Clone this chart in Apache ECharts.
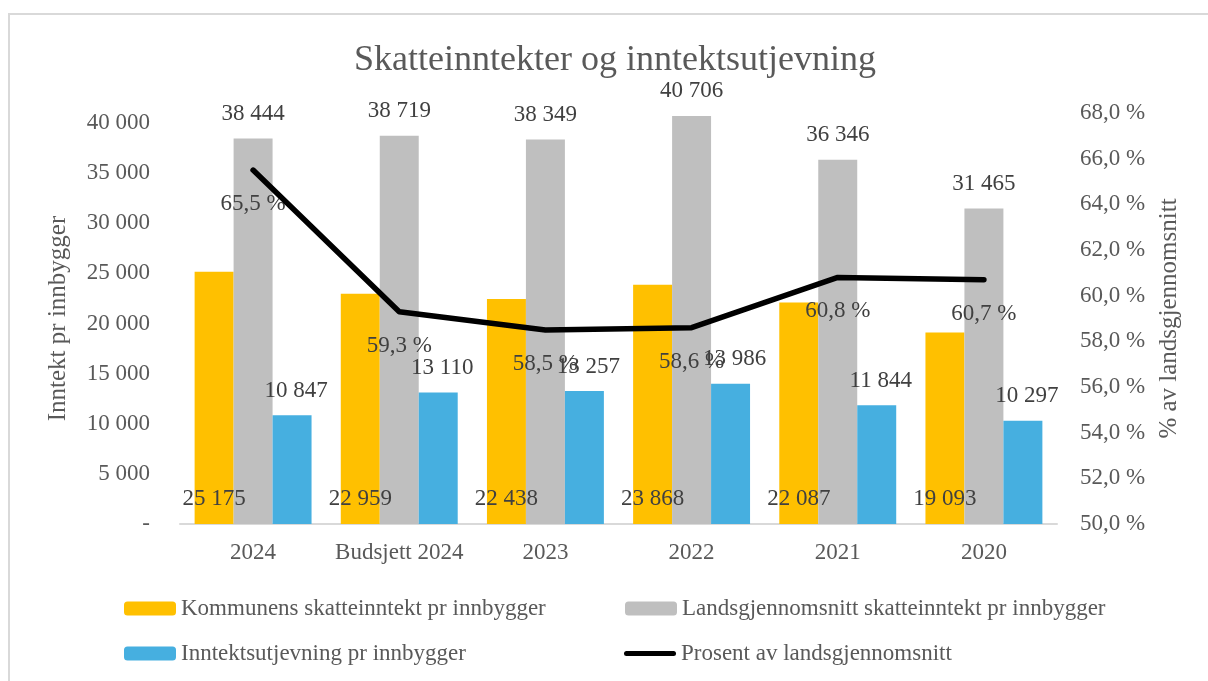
<!DOCTYPE html>
<html>
<head>
<meta charset="utf-8">
<title>Skatteinntekter og inntektsutjevning</title>
<script src="https://cdn.jsdelivr.net/npm/echarts@6/dist/echarts.min.js"></script>
<style>
  html, body { margin: 0; padding: 0; background: #fff; }
  #visualisation { width: 1208px; height: 681px; }
</style>
</head>
<body>
<div id="visualisation"></div>
<script>
// Data
const categories = ['2024', 'Budsjett 2024', '2023', '2022', '2021', '2020'];
const kommunen = [25175, 22959, 22438, 23868, 22087, 19093];
const landsgjennomsnitt = [38444, 38719, 38349, 40706, 36346, 31465];
const utjevning = [10847, 13110, 13257, 13986, 11844, 10297];
const prosent = [65.5, 59.3, 58.5, 58.6, 60.8, 60.7];

const font = 'Liberation Serif';
const tekstGraa = '#595959';
const etikettFarge = '#404040';

// tusenskille med mellomrom
function tall(v) {
  return String(Math.round(v)).replace(/\B(?=(\d{3})+(?!\d))/g, ' ');
}
function pst(v) {
  return v.toFixed(1).replace('.', ',') + ' %';
}

function drawVisualisation() {
  let visualisation = echarts.init(document.getElementById('visualisation'));

  let barLabel = (pos, dist) => ({
    show: true,
    position: pos,
    distance: dist,
    fontFamily: font,
    fontSize: 23,
    color: etikettFarge,
    formatter: p => tall(p.value)
  });

  let legendBase = {
    orient: 'horizontal',
    padding: 0,
    itemWidth: 52,
    itemHeight: 14,
    textStyle: { fontFamily: font, fontSize: 23, color: tekstGraa }
  };

  // linje-ikon i tegnforklaringen (uten punkt)
  const linjeIkon = 'path://M2.5,0 L49.5,0 A2.5,2.5 0 0 1 49.5,5 L2.5,5 A2.5,2.5 0 0 1 2.5,0 Z';

  let option = {
    animation: false,
    textStyle: { fontFamily: font },
    title: {
      text: 'Skatteinntekter og inntektsutjevning',
      left: 349,
      top: 38,
      textStyle: { fontFamily: font, fontSize: 36, fontWeight: 'normal', color: tekstGraa }
    },
    graphic: [{
      type: 'rect',
      shape: { x: 9, y: 14, width: 1400, height: 900 },
      style: { fill: 'none', stroke: '#d9d9d9', lineWidth: 2 },
      silent: true
    }],
    legend: [
      Object.assign({ left: 124, top: 597, data: ['Kommunens skatteinntekt pr innbygger'] }, legendBase),
      Object.assign({ left: 625, top: 597, data: ['Landsgjennomsnitt skatteinntekt pr innbygger'] }, legendBase),
      Object.assign({ left: 124, top: 642, data: ['Inntektsutjevning pr innbygger'] }, legendBase),
      Object.assign({ left: 624, top: 642, data: [{ name: 'Prosent av landsgjennomsnitt', icon: linjeIkon, itemStyle: { color: '#000000' } }] }, legendBase)
    ],
    grid: { left: 180, right: 151, top: 113, bottom: 157, containLabel: false },
    xAxis: {
      type: 'category',
      data: categories,
      axisLine: { lineStyle: { color: '#d9d9d9', width: 2 } },
      axisTick: { show: false },
      axisLabel: { interval: 0, fontFamily: font, fontSize: 23, color: tekstGraa, margin: 17 }
    },
    yAxis: [
      {
        type: 'value',
        min: 0,
        max: 41000,
        interval: 5000,
        name: 'Inntekt pr innbygger',
        nameLocation: 'middle',
        nameGap: 109,
        nameRotate: 90,
        nameTextStyle: { fontFamily: font, fontSize: 25, color: tekstGraa },
        splitLine: { show: false },
        axisLine: { show: false },
        axisTick: { show: false },
        axisLabel: {
          fontFamily: font, fontSize: 23, color: tekstGraa, margin: 30,
          showMaxLabel: false,
          formatter: v => v === 0 ? '-' : tall(v)
        }
      },
      {
        type: 'value',
        min: 50,
        max: 68,
        interval: 2,
        name: '% av landsgjennomsnitt',
        nameLocation: 'middle',
        nameGap: 100,
        nameRotate: 90,
        nameTextStyle: { fontFamily: font, fontSize: 25, color: tekstGraa },
        splitLine: { show: false },
        axisLine: { show: false },
        axisTick: { show: false },
        axisLabel: {
          fontFamily: font, fontSize: 23, color: tekstGraa, margin: 23,
          formatter: v => pst(v)
        }
      }
    ],
    series: [
      {
        name: 'Kommunens skatteinntekt pr innbygger',
        type: 'bar',
        data: kommunen,
        itemStyle: { color: '#FFC000' },
        barGap: '0%',
        barCategoryGap: '20%',
        label: barLabel('insideBottom', 14),
        z: 2
      },
      {
        name: 'Landsgjennomsnitt skatteinntekt pr innbygger',
        type: 'bar',
        data: landsgjennomsnitt,
        itemStyle: { color: '#BFBFBF' },
        barGap: '0%',
        barCategoryGap: '20%',
        label: barLabel('top', 13),
        z: 2
      },
      {
        name: 'Inntektsutjevning pr innbygger',
        type: 'bar',
        data: utjevning,
        itemStyle: { color: '#46AFE0' },
        barGap: '0%',
        barCategoryGap: '20%',
        label: Object.assign(barLabel('top', 13), { offset: [4, 0] }),
        z: 2
      },
      {
        // etiketter for prosentlinja (under selve linja)
        name: 'prosent-etiketter',
        type: 'scatter',
        yAxisIndex: 1,
        data: prosent,
        symbolSize: 1,
        itemStyle: { color: 'rgba(0,0,0,0)', opacity: 1 },
        label: {
          show: true,
          position: 'bottom',
          distance: 22,
          fontFamily: font,
          fontSize: 23,
          color: etikettFarge,
          opacity: 1,
          formatter: p => pst(p.value)
        },
        labelLayout: { hideOverlap: false },
        z: 2
      },
      {
        name: 'Prosent av landsgjennomsnitt',
        type: 'line',
        yAxisIndex: 1,
        data: prosent,
        symbol: 'none',
        lineStyle: { color: '#000000', width: 5.5, cap: 'round', join: 'round' },
        itemStyle: { color: '#000000' },
        z: 5
      }
    ]
  };

  visualisation.setOption(option);
}

window.addEventListener('load', drawVisualisation);
</script>
</body>
</html>
